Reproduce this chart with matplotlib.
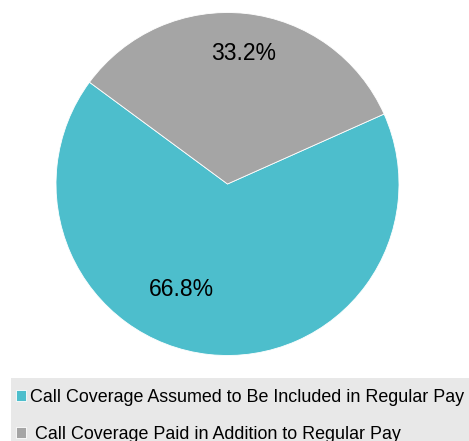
import matplotlib
matplotlib.use('Agg')
from matplotlib import pyplot as plt
from matplotlib.patches import Rectangle
import numpy as np

labels = ['Call Coverage Assumed to Be Included in Regular Pay',
          ' Call Coverage Paid in Addition to Regular Pay']
shares = [66.8, 33.2]
colors = ['#4dbecc', '#a5a5a5']

# where the percentage labels sit (angle in degrees, fraction of radius)
label_angles = [246.3, 82.9]
label_dists = [0.67, 0.765]

plt.rcParams['font.family'] = ['Liberation Sans', 'DejaVu Sans']

fig = plt.figure(figsize=(4.69, 4.41), dpi=100)
ax = fig.add_axes([56 / 469, (441 - 355.5) / 441, 343 / 469, 343 / 441])

wedges, texts, autotexts = ax.pie(shares, colors=colors, startangle=143.6,
                                  autopct='%.1f%%', radius=1,
                                  wedgeprops={'edgecolor': 'white', 'linewidth': 0.6},
                                  textprops={'fontsize': 16.5, 'color': 'black'})
for t, a, d in zip(autotexts, label_angles, label_dists):
    t.set_position((d * np.cos(np.radians(a)), d * np.sin(np.radians(a))))
    t.set_ha('center')
    t.set_va('center')
ax.set_xlim(-1, 1)
ax.set_ylim(-1, 1)
ax.set_aspect('equal')
ax.axis('off')

# grey band behind the legend
fig.patches.append(Rectangle((11 / 469, 0), 1, (441 - 378) / 441,
                             transform=fig.transFigure, facecolor='#e8e8e8',
                             edgecolor='none', zorder=0))

fig.legend(wedges, labels, loc='upper left', bbox_to_anchor=(16 / 469, 1 - 388.5 / 441),
           frameon=False, fontsize=12.9, handlelength=0.55, handleheight=0.55,
           handletextpad=0.22, labelspacing=1.12, borderpad=0, borderaxespad=0)

plt.savefig('out.png', dpi=100)
